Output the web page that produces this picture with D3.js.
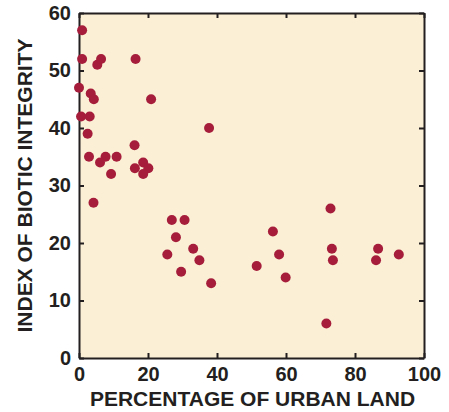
<!DOCTYPE html>
<html>
<head>
<meta charset="utf-8">
<script src="https://cdn.jsdelivr.net/npm/d3@7"></script>
<style>
  body { margin: 0; background: #fff; }
  text { font-family: "Liberation Sans", Arial, sans-serif; font-weight: bold; fill: #231f20; }
</style>
</head>
<body>
<svg id="chart" width="449" height="412"></svg>
<script>
// percentage of urban land (x) and index of biotic integrity (y), one entry per site
var urbanPct = [0.9, 0.9, 5.3, 6.4, 16.4, 0, 3.4, 4.3, 20.9, 0.6, 3.1, 2.5, 37.7, 16.1,
                2.9, 7.7, 10.9, 6.1, 9.3, 16.2, 18.6, 20.1, 18.6, 4.2, 26.9, 30.6, 28.1,
                33.1, 25.6, 34.9, 29.6, 38.3, 51.5, 56.2, 58.0, 59.9, 72.9, 73.3, 73.6,
                71.7, 86.7, 86.1, 92.7];
var ibi      = [57, 52, 51, 52, 52, 47, 46, 45, 45, 42, 42, 39, 40, 37,
                35, 35, 35, 34, 32, 33, 34, 33, 32, 27, 24, 24, 21,
                19, 18, 17, 15, 13, 16, 22, 18, 14, 26, 19, 17,
                6, 19, 17, 18];
var xTicks = [0, 20, 40, 60, 80, 100];
var yTicks = [0, 10, 20, 30, 40, 50, 60];

var svg = d3.select("#chart");
// plot box edges (note: "top" is taken by window.top, so use pTop etc)
var pLeft = 79, pRight = 424, pTop = 13, pBottom = 358;

var x = d3.scaleLinear().domain([0, 100]).range([pLeft, pRight]);
var y = d3.scaleLinear().domain([0, 60]).range([pBottom, pTop]);

// plot background
svg.append("rect")
    .attr("x", pLeft).attr("y", pTop)
    .attr("width", pRight - pLeft).attr("height", pBottom - pTop)
    .attr("fill", "#fbf0d5");

// axes, ticks pointing inward on all sides
var ax = function(g) {
    g.selectAll(".domain").attr("stroke", "#231f20").attr("stroke-width", 2);
    g.selectAll(".tick line").attr("stroke", "#231f20").attr("stroke-width", 2);
};
svg.append("g").attr("transform", "translate(0," + pBottom + ")")
    .call(d3.axisBottom(x).tickValues(xTicks).tickSizeInner(-5).tickSizeOuter(0).tickPadding(9))
    .call(ax)
    .selectAll("text").attr("font-size", 20).attr("font-family", null);
svg.append("g").attr("transform", "translate(0," + pTop + ")")
    .call(d3.axisTop(x).tickValues(xTicks).tickSizeInner(-5).tickSizeOuter(0).tickFormat(""))
    .call(ax);
svg.append("g").attr("transform", "translate(" + pLeft + ",0)")
    .call(d3.axisLeft(y).tickValues(yTicks).tickSizeInner(-5).tickSizeOuter(0).tickPadding(8))
    .call(ax)
    .selectAll("text").attr("font-size", 20).attr("font-family", null);
svg.append("g").attr("transform", "translate(" + pRight + ",0)")
    .call(d3.axisRight(y).tickValues(yTicks).tickSizeInner(-5).tickSizeOuter(0).tickFormat(""))
    .call(ax);

svg.selectAll("g.tick text").attr("fill", "#231f20");

// points
svg.append("g").selectAll("circle")
    .data(urbanPct)
    .enter().append("circle")
    .attr("cx", function(d) { return x(d); })
    .attr("cy", function(d, i) { return y(ibi[i]); })
    .attr("r", 5)
    .attr("fill", "#a51d3b");

// axis titles
svg.append("text")
    .attr("x", (pLeft + pRight) / 2 + 1).attr("y", 406)
    .attr("text-anchor", "middle").attr("font-size", 21)
    .text("PERCENTAGE OF URBAN LAND");
svg.append("text")
    .attr("transform", "translate(32," + ((pTop + pBottom) / 2) + ") rotate(-90)")
    .attr("text-anchor", "middle").attr("font-size", 21)
    .text("INDEX OF BIOTIC INTEGRITY");
</script>
</body>
</html>
